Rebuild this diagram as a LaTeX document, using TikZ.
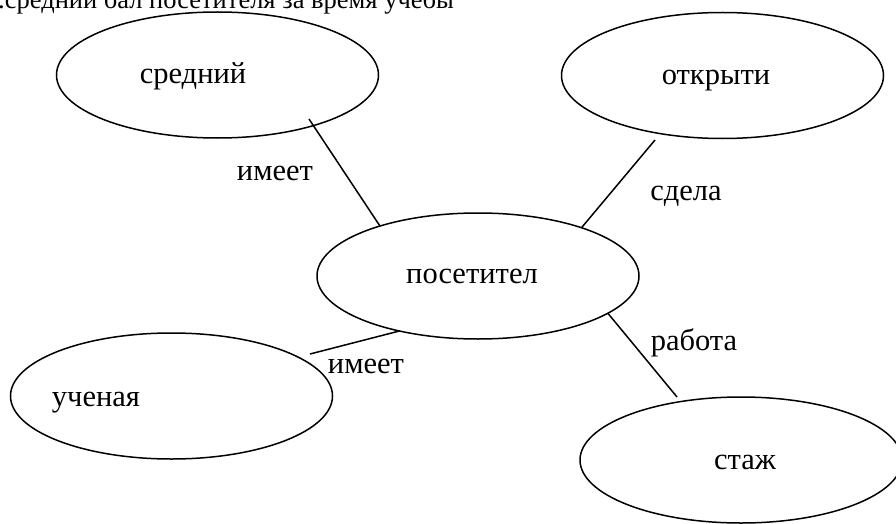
\documentclass[tikz,border=0pt]{standalone}
\usepackage{fontspec}
\setmainfont{Liberation Serif}
\usetikzlibrary{shapes.geometric}
\begin{document}
\begin{tikzpicture}[x=1pt,y=-1pt,
  oval/.style={draw=black,line width=1.5pt,ellipse,inner sep=0pt,outer sep=0pt,
    minimum width=322pt,minimum height=126pt},
  txt/.style={anchor=base,inner sep=0pt,font=\fontsize{30.5}{36}\selectfont},
  link/.style={draw=black,line width=1.5pt}]
\useasboundingbox (0,0) rectangle (896,524);
\clip (0,0) rectangle (896,524);
\fill[white] (0,0) rectangle (896,524);
% title (clipped at the top, as in the reference)
\node[txt,anchor=base west,font=\fontsize{26.5}{32}\selectfont] (title) at (-2,9) {.средний бал посетителя за время учебы};
% ellipses
\node[oval] (sred) at (217.5,75) {};
\node[oval] (otkr) at (722.5,75.5) {};
\node[oval] (pos) at (478,276) {};
\node[oval] (uch) at (171.5,396) {};
\node[oval] (stazh) at (741,460) {};
% ellipse texts
\node[txt] (tsred) at (193,84) {средний};
\node[txt] (totkr) at (716,85) {открыти};
\node[txt] (tpos) at (472,283) {посетител};
\node[txt] (tuch) at (96,406) {ученая};
\node[txt] (tstazh) at (745,469) {стаж};
% free ends
\coordinate (e1) at (309,119);
\coordinate (e2) at (655,140);
\coordinate (e3) at (310,354);
\coordinate (e4) at (677,397);
% connectors
\draw[link] (e1) -- (pos.153.7);
\draw[link] (e2) -- (pos.25.3);
\draw[link] (e3) -- (pos.215.5);
\draw[link] (pos.344.2) -- (e4);
% connector labels
\node[txt] (l1) at (275,180) {имеет};
\node[txt] (l2) at (686,200) {сдела};
\node[txt] (l3) at (366,373) {имеет};
\node[txt] (l4) at (694,350) {работа};
\end{tikzpicture}
\end{document}
